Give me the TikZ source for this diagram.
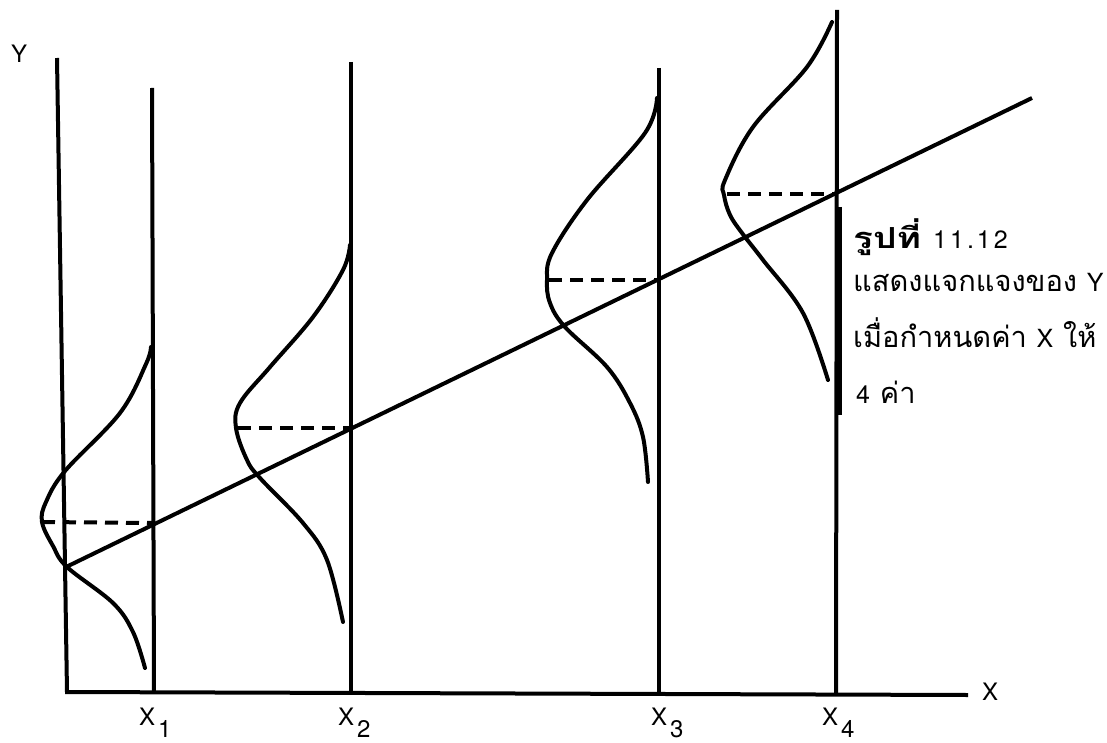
\documentclass[tikz,border=0pt]{standalone}
\usepackage{fontspec}
\setmainfont{TeX Gyre Heros}
\newfontfamily\thaifont[Script=Thai]{Loma}
\newfontfamily\heros{TeX Gyre Heros}
\newfontfamily\herossp[LetterSpace=12]{TeX Gyre Heros}
\newcommand{\latin}[1]{{\heros\fontsize{25}{28}\selectfont #1}}
\newcommand{\digits}[1]{{\herossp\fontsize{25}{28}\selectfont #1}}
\begin{document}
\begin{tikzpicture}[x=1pt,y=-1pt,
  ax/.style={line width=4pt},
  vline/.style={line width=4pt},
  curve/.style={line width=4pt, line cap=round},
  dash line/.style={line width=4pt, dash pattern=on 13pt off 8pt},
  lbl/.style={inner sep=0pt, anchor=base west, font=\heros\fontsize{24}{28}\selectfont},
  captxt/.style={inner sep=0pt, anchor=base west, font=\thaifont\fontsize{29}{34}\selectfont}]
\useasboundingbox (0,0) rectangle (1107,743);
% axes
\coordinate (O) at (67,692);
\coordinate (ytop) at (57,58);
\coordinate (xend) at (968,695);
\draw[ax] (ytop) -- (O) -- (xend);
% verticals
\coordinate (v1t) at (152,88);  \coordinate (v1b) at (154,692);
\coordinate (v2t) at (351,62);  \coordinate (v2b) at (351,693);
\coordinate (v3t) at (659,68);  \coordinate (v3b) at (659,694);
\coordinate (v4t) at (837,10);  \coordinate (v4b) at (836,694);
\draw[vline] (v1t) -- (v1b);
\draw[vline] (v2t) -- (v2b);
\draw[vline] (v3t) -- (v3b);
\draw[vline] (v4t) -- (v4b);
\coordinate (bart) at (839,207); \coordinate (barb) at (839,415);
\draw[line width=6.5pt] (bart) -- (barb);
% regression line
\coordinate (rs) at (64,568);
\coordinate (re) at (1032,98);
\draw[ax] (rs) -- (re);
% means on the line
\coordinate (m1) at (153,523);
\coordinate (m2) at (351,428);
\coordinate (m3) at (659,280);
\coordinate (m4) at (837,194);
\coordinate (d1) at (42,522);
\coordinate (d2) at (238,428);
\coordinate (d3) at (549,280);
\coordinate (d4) at (727,194);
\draw[dash line] (d1) -- (m1);
\draw[dash line] (d2) -- (m2);
\draw[dash line] (d3) -- (m3);
\draw[dash line] (d4) -- (m4);
% curves
\draw[curve] plot[smooth, tension=0.6] coordinates {(151,347) (146,364) (120,413) (65,471) (46,502) (42,522) (53,546) (67,567) (113,603) (133,632) (145,668)};
\draw[curve] plot[smooth, tension=0.6] coordinates {(350,245) (343,270) (313,317) (270,367) (240,403) (236,428) (247,460) (260,478) (303,523) (327,560) (343,622)};
\draw[curve] plot[smooth, tension=0.6] coordinates {(657,98) (645,133) (587,200) (552,253) (547,280) (550,303) (565,327) (607,367) (630,403) (643,437) (648,482)};
\draw[curve] plot[smooth, tension=0.6] coordinates {(832,22) (807,67) (753,127) (725,180) (724,195) (730,215) (742,233) (763,260) (803,313) (828,380)};
% labels
\node[lbl] (ylab) at (11,63) {Y};
\node[lbl] (xlab) at (982,700) {X};
\node[lbl] (x1) at (139,725) {X\hspace{3pt}\raisebox{-12pt}{1}};
\node[lbl] (x2) at (338,725) {X\hspace{3pt}\raisebox{-12pt}{2}};
\node[lbl] (x3) at (651,725) {X\hspace{3pt}\raisebox{-12pt}{3}};
\node[lbl] (x4) at (822,725) {X\hspace{3pt}\raisebox{-12pt}{4}};
% caption
\node[captxt] (c1) at (853,248) {\makebox[80pt][l]{\scalebox{1.28}[1]{\bfseries รูปที่}}\digits{11.12}};
\node[captxt] (c2) at (853,291) {แสดงแจกแจงของ \latin{Y}};
\node[captxt] (c3) at (853,347) {เมื่อกำหนดค่า \latin{X} ให้};
\node[captxt] (c4) at (856,403) {\digits{4} ค่า};
\end{tikzpicture}
\end{document}
